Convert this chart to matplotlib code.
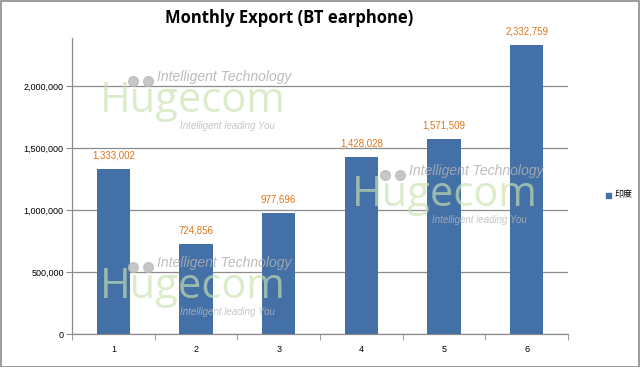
import matplotlib.pyplot as plt
from matplotlib.patches import Rectangle
from matplotlib.lines import Line2D
from matplotlib.ticker import FuncFormatter, FixedLocator

months = ["1", "2", "3", "4", "5", "6"]
exports = [1333002, 724856, 977696, 1428028, 1571509, 2332759]
series_name = "印度"
title = "Monthly Export (BT earphone)"

plt.rcParams["font.family"] = ["Liberation Sans", "Noto Sans CJK SC", "DejaVu Sans"]

fig = plt.figure(figsize=(6.4, 3.67), dpi=100)
W, H = 640, 367
ax = fig.add_axes([72 / W, 1 - 334 / H, (568 - 72) / W, (334 - 38) / H])

x = list(range(len(months)))
bars = ax.bar(x, exports, width=0.4, color="#4470a8", zorder=3)

for xi, v in zip(x, exports):
    ax.annotate(f"{v:,}", (xi, v), xytext=(0, 6), textcoords="offset points",
                ha="center", va="bottom", fontsize=7, color="#e0761a", zorder=4)

ax.set_xlim(-0.5, len(months) - 0.5)
ax.set_ylim(0, 2.387e6)
ax.set_yticks([0, 500000, 1000000, 1500000, 2000000])
ax.yaxis.set_major_formatter(FuncFormatter(lambda v, p: f"{int(v):,}"))
ax.grid(axis="y", color="#8c8c8c", linewidth=0.9, zorder=0)

ax.set_xticks(x)
ax.set_xticklabels(months)
ax.xaxis.set_minor_locator(FixedLocator([i - 0.5 for i in range(len(months) + 1)]))
ax.tick_params(axis="x", which="major", length=0, pad=8, labelsize=6.5)
ax.tick_params(axis="x", which="minor", length=4, color="#8c8c8c", direction="out")
ax.tick_params(axis="y", length=4, color="#8c8c8c", labelsize=6.5, pad=2)

for s in ["top", "right"]:
    ax.spines[s].set_visible(False)
for s in ["left", "bottom"]:
    ax.spines[s].set_color("#8c8c8c")
    ax.spines[s].set_linewidth(0.9)

fig.text(289 / W, 1 - 18 / H, title, ha="center", va="center", fontsize=12,
         fontweight="bold", family=["Open Sans", "DejaVu Sans"])

# legend
fig.patches.append(Rectangle((606 / W, 1 - 198 / H), 5 / W, 5 / H,
                             transform=fig.transFigure, color="#4470a8"))
fig.text(614 / W, 1 - 195 / H, series_name, ha="left", va="center", fontsize=6.5,
         family=["Noto Sans CJK SC", "DejaVu Sans"])

# watermarks (logo text overlaid on the picture)
for bx, by in [(100, 77), (352, 171), (100, 263)]:
    fig.text((bx + 57) / W, 1 - by / H, "Intelligent Technology", fontsize=10,
             style="italic", color="#b0b0b0", alpha=0.85, ha="left", va="center")
    fig.add_artist(Line2D([(bx + 33) / W, (bx + 48) / W], [1 - (by + 4) / H] * 2,
                          transform=fig.transFigure, linestyle="none", marker="o",
                          markersize=7, color="#bdbdbd", alpha=0.85))
    fig.text(bx / W, 1 - (by + 35) / H, "Hugecom", fontsize=30,
             color="#c9e2b0", alpha=0.65, ha="left", va="baseline",
             family=["Open Sans", "DejaVu Sans"])
    fig.text((bx + 80) / W, 1 - (by + 49) / H, "Intelligent leading You", fontsize=7,
             style="italic", color="#b8b8b8", alpha=0.8, ha="left", va="center")

fig.patches.append(Rectangle((0.5 / W, 0.5 / H), 1 - 1.5 / W, 1 - 1.5 / H,
                             transform=fig.transFigure, fill=False,
                             edgecolor="#8c8c8c", linewidth=1.2))

fig.savefig("out.png", dpi=100)
